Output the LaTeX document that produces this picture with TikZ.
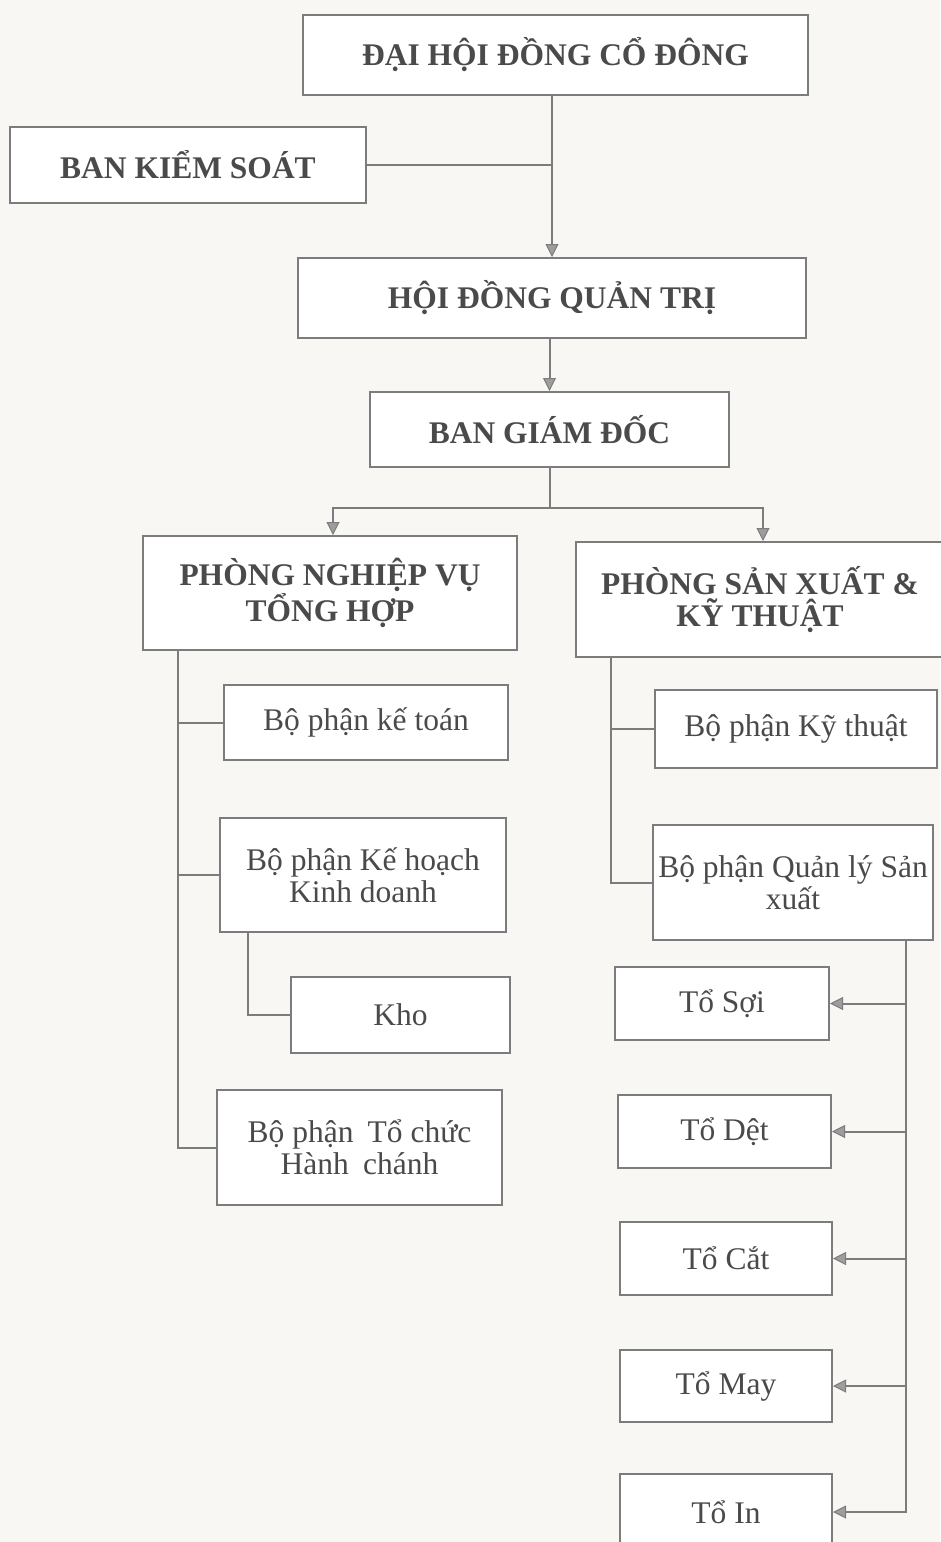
\documentclass[tikz,border=0pt]{standalone}
\usepackage{fontspec}
\setmainfont{Liberation Serif}
\usetikzlibrary{arrows.meta,calc}
\definecolor{ink}{HTML}{4A4A4A}
\definecolor{wire}{HTML}{7C7C7C}
\definecolor{paper}{HTML}{F8F7F4}
\tikzset{
  box/.style={draw=wire, line width=2pt, fill=white, text=ink, align=center, inner sep=1pt,
              font=\fontsize{31.5}{32}\selectfont},
  capbox/.style={box, font=\fontsize{31.5}{32}\selectfont\bfseries},
  link/.style={draw=wire, line width=2pt},
  arr/.style={link, -{Triangle[length=13pt, width=13pt, line width=1pt, fill=wire!75!white]}}
}
\begin{document}
\begin{tikzpicture}[x=1pt, y=-1pt]
\fill[paper] (0,0) rectangle (940,1542);
\useasboundingbox (0,0) rectangle (940,1542);
% top levels
\node[capbox, minimum width=505pt, minimum height=80pt] (dh) at (555.5,55) {ĐẠI HỘI ĐỒNG CỔ ĐÔNG};
\node[capbox, minimum width=356pt, minimum height=76pt] (bks) at (188,165) {BAN KIỂM SOÁT};
\node[capbox, minimum width=508pt, minimum height=80pt] (hdqt) at (552,298) {HỘI ĐỒNG QUẢN TRỊ};
\node[capbox, minimum width=359pt, minimum height=75pt] (bgd) at (549.5,429.5) {BAN GIÁM ĐỐC};
\node[capbox, minimum width=374pt, minimum height=114pt] (pnv) at (330,593) {PHÒNG NGHIỆP VỤ\\TỔNG HỢP};
\node[capbox, minimum width=368pt, minimum height=115pt] (psx) at (760,599.5) {PHÒNG SẢN XUẤT \&\\KỸ THUẬT};
% left branch
\node[box, minimum width=284pt, minimum height=75pt] (kt) at (366,722.5) {Bộ phận kế toán};
\node[box, minimum width=286pt, minimum height=114pt] (khkd) at (363,875) {Bộ phận Kế hoạch\\Kinh doanh};
\node[box, minimum width=219pt, minimum height=76pt] (kho) at (400.5,1015) {Kho};
\node[box, minimum width=285pt, minimum height=115pt] (tchc) at (359.5,1147.5) {Bộ phận\hspace{0.2em} Tổ chức\\Hành\hspace{0.2em} chánh};
% right branch
\node[box, minimum width=282pt, minimum height=78pt] (kyt) at (796,729) {Bộ phận Kỹ thuật};
\node[box, minimum width=280pt, minimum height=115pt, inner sep=0pt] (qlsx) at (793,882.5) {Bộ phận Quản lý Sản\\xuất};
\node[box, minimum width=214pt, minimum height=73pt] (tsoi) at (722,1003.5) {Tổ Sợi};
\node[box, minimum width=213pt, minimum height=73pt] (tdet) at (724.5,1131.5) {Tổ Dệt};
\node[box, minimum width=212pt, minimum height=73pt] (tcat) at (726,1258.5) {Tổ Cắt};
\node[box, minimum width=212pt, minimum height=72pt] (tmay) at (726,1386) {Tổ May};
\node[box, minimum width=212pt, minimum height=76pt] (tin) at (726,1512) {Tổ In};
% connectors top
\draw[arr] (hdqt.north |- dh.south) -- (hdqt.north);
\draw[link] (bks.east) -- (hdqt.north |- bks.east);
\draw[arr] (bgd.north |- hdqt.south) -- (bgd.north);
\coordinate (split) at (549.5,508);
\draw[link] (bgd.south) -- (split);
\draw[arr] (split) -| ([xshift=3pt]pnv.north);
\draw[arr] (split) -| ([xshift=3pt]psx.north);
% left tree
\coordinate (lt) at ([xshift=36pt]pnv.south west);
\draw[link] (lt) |- (tchc.west);
\draw[link] (lt |- kt.west) -- (kt.west);
\draw[link] (lt |- khkd.west) -- (khkd.west);
\coordinate (kk) at ([xshift=29pt]khkd.south west);
\draw[link] (kk) |- (kho.west);
% right tree
\coordinate (rt) at ([xshift=36pt]psx.south west);
\draw[link] (rt) |- (qlsx.west);
\draw[link] (rt |- kyt.west) -- (kyt.west);
\coordinate (rq) at ([xshift=-28pt]qlsx.south east);
\draw[arr] (rq) |- (tin.east);
\draw[arr] (rq |- tsoi.east) -- (tsoi.east);
\draw[arr] (rq |- tdet.east) -- (tdet.east);
\draw[arr] (rq |- tcat.east) -- (tcat.east);
\draw[arr] (rq |- tmay.east) -- (tmay.east);
\end{tikzpicture}
\end{document}
